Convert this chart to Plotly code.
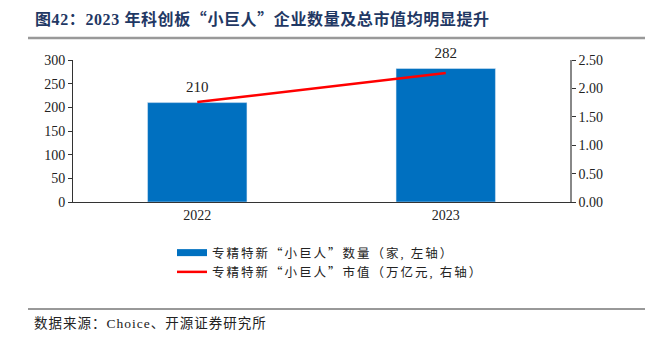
import plotly.graph_objects as go

years = ["2022", "2023"]
counts = [210, 282]
market_value = [1.76, 2.27]
bar_name = "专精特新“小巨人”数量（家, 左轴）"
line_name = "专精特新“小巨人”市值（万亿元, 右轴）"
title_text = "图42：2023 年科创板“小巨人”企业数量及总市值均明显提升"
source_text = "数据来源：Choice、开源证券研究所"

FONT = "Liberation Serif, Noto Sans CJK SC, serif"

W, H = 652, 338
ML, MR, MT, MB = 73, 82, 60, 136
PW, PH = W - ML - MR, H - MT - MB


def px(x):
    return (x - ML) / PW


def py(y):
    return (H - MB - y) / PH


def fw(s, spacing):
    # CJK punctuation in the CJK font (full width) and wider letter spacing
    for ch in "“”（）":
        s = s.replace(ch, "<span style=\"font-family:'Noto Sans CJK SC'\">" + ch + "</span>")
    return "<span style=\"letter-spacing:%spx\">" % spacing + s + "</span>"


fig = go.Figure()
fig.add_trace(go.Bar(
    x=years, y=counts, name=bar_name, marker_color="#0070C0",
    width=0.4, showlegend=False,
))
fig.add_trace(go.Scatter(
    x=years, y=counts, mode="markers+text", text=[str(c) for c in counts],
    marker=dict(size=10, opacity=0),
    textposition="top center", textfont=dict(size=15, color="#222"),
    showlegend=False, cliponaxis=False, hoverinfo="skip",
))
# legend entry for bars as a wide thick line
fig.add_trace(go.Scatter(
    x=[None], y=[None], name=fw(bar_name, 2), mode="lines",
    line=dict(color="#0070C0", width=7),
))
fig.add_trace(go.Scatter(
    x=years, y=market_value, name=fw(line_name, 2), yaxis="y2",
    mode="lines", line=dict(color="#FF0000", width=2.5),
))

fig.update_layout(
    width=W, height=H,
    margin=dict(l=ML, r=MR, t=MT, b=MB),
    paper_bgcolor="white", plot_bgcolor="white",
    font=dict(family=FONT, size=14, color="#222"),
    showlegend=True,
    legend=dict(x=px(172), y=py(238), xanchor="left", yanchor="top",
                font=dict(size=12.5, color="#222"), tracegroupgap=4,
                itemwidth=30, bgcolor="rgba(0,0,0,0)"),
    xaxis=dict(type="category", showline=True, linecolor="#333", linewidth=1,
               ticks="", tickfont=dict(size=14), range=[-0.5, 1.5]),
    yaxis=dict(range=[0, 300], dtick=50, showline=True, linecolor="#333",
               linewidth=1, ticks="outside", ticklen=4, tickcolor="#333",
               showgrid=False, zeroline=False, tickfont=dict(size=14)),
    yaxis2=dict(range=[0, 2.5], dtick=0.5, tickformat=".2f", overlaying="y",
                side="right", showline=True, linecolor="#888", linewidth=1.5,
                ticks="outside", ticklen=4, tickcolor="#333", showgrid=False,
                zeroline=False, tickfont=dict(size=14)),
)

fig.add_annotation(text="<b>" + fw(title_text, 0.6) + "</b>", xref="paper", yref="paper",
                   x=px(33), y=py(18), xanchor="left", yanchor="middle",
                   showarrow=False, font=dict(size=16, color="#1F3864", family=FONT))
fig.add_shape(type="line", xref="paper", yref="paper", x0=px(28), x1=px(645),
              y0=py(38), y1=py(38), line=dict(color="#999", width=2.5))
fig.add_shape(type="line", xref="paper", yref="paper", x0=px(28), x1=px(645),
              y0=py(309), y1=py(309), line=dict(color="#333", width=1))
fig.add_annotation(text=fw(source_text, 1), xref="paper", yref="paper",
                   x=px(32), y=py(323), xanchor="left", yanchor="middle",
                   showarrow=False, font=dict(size=13.5, color="#222", family=FONT))

fig.write_html("out.html")
